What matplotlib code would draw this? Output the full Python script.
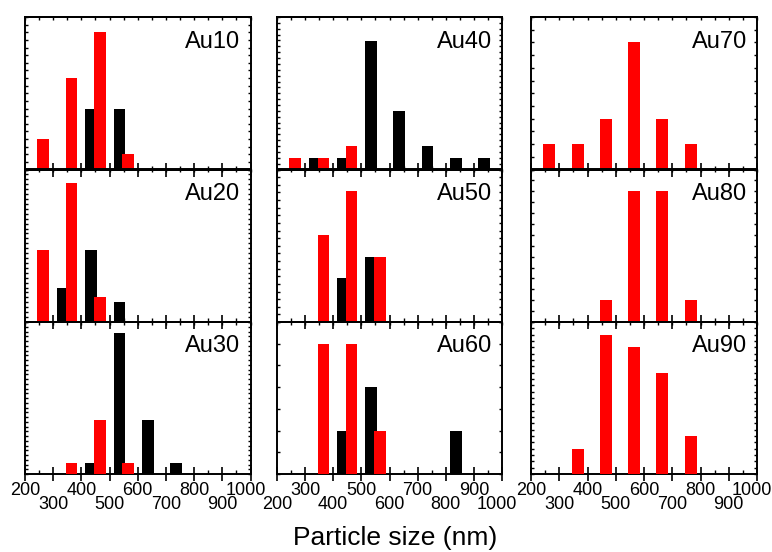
import matplotlib
matplotlib.use('Agg')
import matplotlib.pyplot as plt
import matplotlib.transforms as mtransforms
import numpy as np
from matplotlib.ticker import FixedLocator, NullFormatter

plt.rcParams['font.family'] = ['Liberation Sans', 'DejaVu Sans']

# ---- data ----
black_x = [335, 435, 535, 635, 735, 835, 935]
red_x = [265, 365, 465, 565, 665, 765]

samples = ['Au10', 'Au20', 'Au30', 'Au40', 'Au50', 'Au60', 'Au70', 'Au80', 'Au90']

au10_black = [0, 4, 4, 0, 0, 0, 0]
au10_red = [2, 6, 9, 1, 0, 0]
au20_black = [4.95, 10.4, 2.9, 0, 0, 0, 0]
au20_red = [10.4, 20, 3.6, 0, 0, 0]
au30_black = [0, 1, 13, 5, 1, 0, 0]
au30_red = [0, 1, 5, 1, 0, 0]
au40_black = [1, 1, 11, 5, 2, 1, 1]
au40_red = [1, 1, 2, 0, 0, 0]
au50_black = [0, 2, 3, 0, 0, 0, 0]
au50_red = [0, 4, 6, 3, 0, 0]
au60_black = [0, 1, 2, 0, 0, 1, 0]
au60_red = [0, 3, 3, 1, 0, 0]
au70_black = [0, 0, 0, 0, 0, 0, 0]
au70_red = [1, 1, 2, 5, 2, 1]
au80_black = [0, 0, 0, 0, 0, 0, 0]
au80_red = [0, 0, 1, 6, 6, 1]
au90_black = [0, 0, 0, 0, 0, 0, 0]
au90_red = [0, 2, 11, 10, 8, 3]

blacks = [au10_black, au20_black, au30_black, au40_black, au50_black,
          au60_black, au70_black, au80_black, au90_black]
reds = [au10_red, au20_red, au30_red, au40_red, au50_red,
        au60_red, au70_red, au80_red, au90_red]

ymax = [10, 22, 14, 13.1, 7, 3.5, 6, 7, 12]
ytick_n = [20, 31, 32, 26, 20, 7, 12, 14, 24]

x_major = list(range(200, 1001, 100))
x_minor = list(range(250, 1000, 100))

# ---- layout ----
W, H = 772, 552
fig = plt.figure(figsize=(W / 100, H / 100), dpi=100)
fig.patch.set_facecolor('white')

col_lr = [(25, 250.5), (277, 502), (531, 757)]
row_tb = [(17, 169.5), (169.5, 322), (322, 474)]

axes = []
for c in range(3):
    for r in range(3):
        i = c * 3 + r
        l, rr = col_lr[c]
        t, b = row_tb[r]
        ax = fig.add_axes([l / W, 1 - b / H, (rr - l) / W, (b - t) / H])
        ax.patch.set_visible(False)
        bx = [x for x, v in zip(black_x, blacks[i]) if v > 0]
        bv = [v for v in blacks[i] if v > 0]
        rx = [x for x, v in zip(red_x, reds[i]) if v > 0]
        rv = [v for v in reds[i] if v > 0]
        ax.bar(bx, bv, width=42, color='black', linewidth=0, zorder=2)
        ax.bar(rx, rv, width=42, color='#ff0000', linewidth=0, zorder=3)
        ax.set_xlim(200, 1000)
        ax.set_ylim(0, ymax[i])
        for s in ax.spines.values():
            s.set_linewidth(1.4)
        # x ticks
        ax.xaxis.set_major_locator(FixedLocator(x_major))
        ax.xaxis.set_minor_locator(FixedLocator(x_minor))
        ax.tick_params(axis='x', which='major', direction='inout', length=10,
                       width=1.2, top=False, bottom=True, pad=1.0, labelsize=13)
        ax.tick_params(axis='x', which='minor', direction='in', length=3,
                       width=1.0, top=False, bottom=True)
        # top ticks via secondary axis
        sec = ax.secondary_xaxis('top')
        sec.xaxis.set_major_locator(FixedLocator(list(range(200, 1001, 50))))
        sec.tick_params(axis='x', which='major', direction='in', length=2.5,
                        width=1.0, labeltop=False)
        sec.xaxis.set_major_formatter(NullFormatter())
        sec.spines['top'].set_linewidth(1.4)
        # y ticks
        ax.yaxis.set_major_locator(FixedLocator(np.linspace(0, ymax[i], ytick_n[i] + 1)))
        ax.tick_params(axis='y', which='major', direction='in', length=2.5,
                       width=1.0, left=True, right=True, labelleft=False)
        ax.yaxis.set_minor_locator(FixedLocator([]))
        if r == 2:
            labels = []
            for x in x_major:
                even = (x // 100) % 2 == 0
                if c == 1:
                    even = not even
                labels.append(f'{x}' if even else f'\n{x}')
            ax.set_xticklabels(labels)
            shift = mtransforms.ScaledTranslation(-5 / 100, 0, fig.dpi_scale_trans)
            for lbl in ax.get_xticklabels():
                lbl.set_linespacing(0.78)
                if lbl.get_text().strip() == '1000':
                    lbl.set_transform(lbl.get_transform() + shift)
        else:
            ax.xaxis.set_major_formatter(NullFormatter())
        ax.text(1 - 10 / 225, 0.80, samples[i], transform=ax.transAxes,
                ha='right', va='baseline', fontsize=17)
        axes.append(ax)

fig.text(395 / W, 1 - 538 / H, 'Particle size (nm)', ha='center', va='center',
         fontsize=19)

fig.savefig('out.png', dpi=100, facecolor='white')
